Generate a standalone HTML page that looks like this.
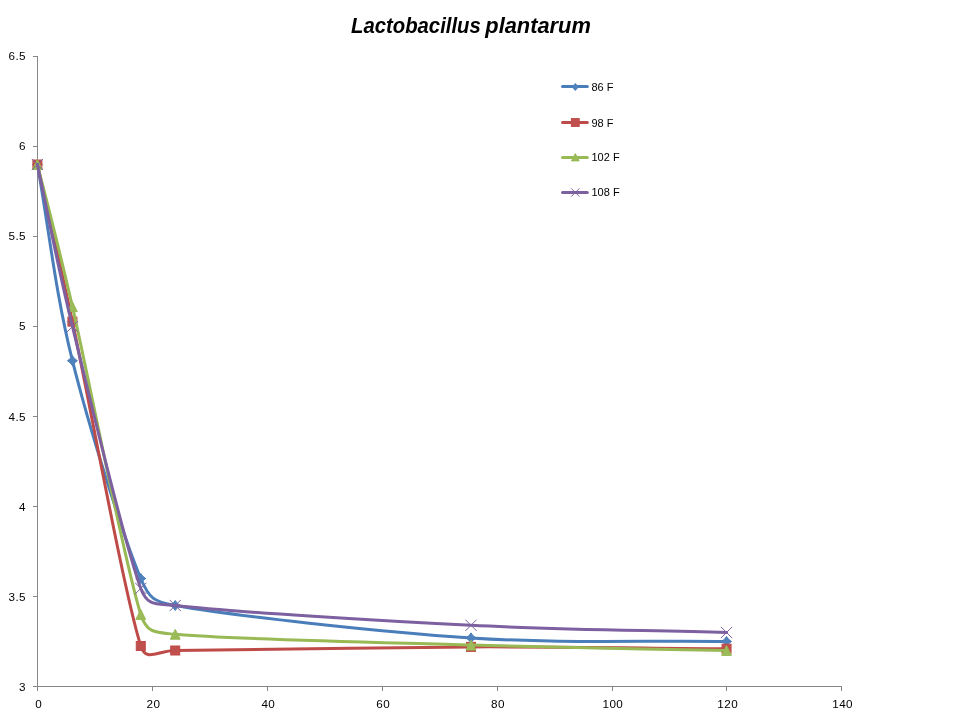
<!DOCTYPE html>
<html><head><meta charset="utf-8"><title>Lactobacillus plantarum</title>
<style>
html,body{margin:0;padding:0;background:#fff;}
body{width:960px;height:720px;overflow:hidden;font-family:"Liberation Sans",sans-serif;}
svg{display:block;}
text{font-family:"Liberation Sans",sans-serif;fill:#000;}
.tx{filter:grayscale(1);}
.ax{font-size:11.7px;letter-spacing:0.4px;}
.lg{font-size:11px;}
</style></head><body>
<svg width="960" height="720" viewBox="0 0 960 720">
<rect width="960" height="720" fill="#ffffff"/>

<g class="tx" font-size="21.5" font-weight="bold" font-style="italic"><text x="351" y="33" textLength="129.8" lengthAdjust="spacingAndGlyphs">Lactobacillus</text><text x="485.3" y="33" textLength="105.6" lengthAdjust="spacingAndGlyphs">plantarum</text></g>
<g stroke="#868686" stroke-width="1" fill="none" shape-rendering="crispEdges">
<path d="M37.5 56V691"/>
<path d="M33 686.5H842"/>
<path d="M33 56.5H37"/>
<path d="M33 146.5H37"/>
<path d="M33 236.5H37"/>
<path d="M33 326.5H37"/>
<path d="M33 416.5H37"/>
<path d="M33 506.5H37"/>
<path d="M33 596.5H37"/>
<path d="M33 686.5H37"/>
<path d="M37.5 686V691"/>
<path d="M152.5 686V691"/>
<path d="M267.5 686V691"/>
<path d="M382.5 686V691"/>
<path d="M497.5 686V691"/>
<path d="M612.5 686V691"/>
<path d="M726.5 686V691"/>
<path d="M841.5 686V691"/>
</g>
<path d="M37.40 164.50 C49.08 229.90 55.20 291.70 72.43 360.70 C89.66 429.70 123.64 537.70 140.77 578.50 C149.25 598.68 153.69 601.62 175.23 605.50 C230.26 615.40 379.10 631.90 470.99 637.90 C562.87 643.90 641.36 640.30 726.54 641.50" fill="none" stroke="#4A7EBB" stroke-width="3" stroke-linecap="round" stroke-linejoin="round"/>
<path d="M37.40 159.50Q39.20 162.70 42.40 164.50Q39.20 166.30 37.40 169.50Q35.60 166.30 32.40 164.50Q35.60 162.70 37.40 159.50Z" fill="#4F81BD" stroke="#4A7EBB" stroke-width="1" stroke-linejoin="miter"/>
<path d="M72.43 355.70Q74.23 358.90 77.43 360.70Q74.23 362.50 72.43 365.70Q70.63 362.50 67.43 360.70Q70.63 358.90 72.43 355.70Z" fill="#4F81BD" stroke="#4A7EBB" stroke-width="1" stroke-linejoin="miter"/>
<path d="M140.77 573.50Q142.57 576.70 145.77 578.50Q142.57 580.30 140.77 583.50Q138.97 580.30 135.77 578.50Q138.97 576.70 140.77 573.50Z" fill="#4F81BD" stroke="#4A7EBB" stroke-width="1" stroke-linejoin="miter"/>
<path d="M175.23 600.50Q177.03 603.70 180.23 605.50Q177.03 607.30 175.23 610.50Q173.43 607.30 170.23 605.50Q173.43 603.70 175.23 600.50Z" fill="#4F81BD" stroke="#4A7EBB" stroke-width="1" stroke-linejoin="miter"/>
<path d="M470.99 632.90Q472.79 636.10 475.99 637.90Q472.79 639.70 470.99 642.90Q469.19 639.70 465.99 637.90Q469.19 636.10 470.99 632.90Z" fill="#4F81BD" stroke="#4A7EBB" stroke-width="1" stroke-linejoin="miter"/>
<path d="M726.54 636.50Q728.34 639.70 731.54 641.50Q728.34 643.30 726.54 646.50Q724.74 643.30 721.54 641.50Q724.74 639.70 726.54 636.50Z" fill="#4F81BD" stroke="#4A7EBB" stroke-width="1" stroke-linejoin="miter"/>
<path d="M37.40 164.50 C43.13 190.19 55.53 242.93 72.43 321.64 C89.66 401.89 123.64 591.19 140.77 646.00 C145.96 662.58 157.85 650.45 175.23 650.50 C230.26 650.65 379.10 647.20 470.99 646.90 C562.87 646.60 641.36 648.10 726.54 648.70" fill="none" stroke="#BE4B48" stroke-width="3" stroke-linecap="round" stroke-linejoin="round"/>
<rect x="32.90" y="160.00" width="9.00" height="9.00" fill="#C0504D" stroke="#BE4B48" stroke-width="1"/>
<rect x="67.93" y="317.14" width="9.00" height="9.00" fill="#C0504D" stroke="#BE4B48" stroke-width="1"/>
<rect x="136.27" y="641.50" width="9.00" height="9.00" fill="#C0504D" stroke="#BE4B48" stroke-width="1"/>
<rect x="170.73" y="646.00" width="9.00" height="9.00" fill="#C0504D" stroke="#BE4B48" stroke-width="1"/>
<rect x="466.49" y="642.40" width="9.00" height="9.00" fill="#C0504D" stroke="#BE4B48" stroke-width="1"/>
<rect x="722.04" y="644.20" width="9.00" height="9.00" fill="#C0504D" stroke="#BE4B48" stroke-width="1"/>
<path d="M37.40 164.50 C42.96 187.05 56.04 235.33 72.43 306.70 C89.66 381.70 123.64 559.90 140.77 614.50 C146.72 633.46 155.44 632.47 175.23 634.30 C230.26 639.40 379.10 642.40 470.99 645.10 C562.87 647.80 641.36 648.70 726.54 650.50" fill="none" stroke="#98B954" stroke-width="3" stroke-linecap="round" stroke-linejoin="round"/>
<path d="M37.40 159.60L42.30 169.40L32.50 169.40Z" fill="#9BBB59" stroke="#98B954" stroke-width="1"/>
<path d="M72.43 301.80L77.33 311.60L67.53 311.60Z" fill="#9BBB59" stroke="#98B954" stroke-width="1"/>
<path d="M140.77 609.60L145.67 619.40L135.87 619.40Z" fill="#9BBB59" stroke="#98B954" stroke-width="1"/>
<path d="M175.23 629.40L180.13 639.20L170.33 639.20Z" fill="#9BBB59" stroke="#98B954" stroke-width="1"/>
<path d="M470.99 640.20L475.89 650.00L466.09 650.00Z" fill="#9BBB59" stroke="#98B954" stroke-width="1"/>
<path d="M726.54 645.60L731.44 655.40L721.64 655.40Z" fill="#9BBB59" stroke="#98B954" stroke-width="1"/>
<path d="M37.40 164.50 C49.08 218.50 55.20 255.85 72.43 326.50 C89.66 397.15 123.64 541.90 140.77 588.40 C147.42 606.45 156.11 603.36 175.23 605.50 C230.26 611.65 379.10 620.80 470.99 625.30 C562.87 629.80 641.36 630.10 726.54 632.50" fill="none" stroke="#7D60A0" stroke-width="3" stroke-linecap="round" stroke-linejoin="round"/>
<path d="M31.80 158.90L43.00 170.10M31.80 170.10L43.00 158.90" fill="none" stroke="#7D60A0" stroke-width="1"/>
<path d="M66.83 320.90L78.03 332.10M66.83 332.10L78.03 320.90" fill="none" stroke="#7D60A0" stroke-width="1"/>
<path d="M135.17 582.80L146.37 594.00M135.17 594.00L146.37 582.80" fill="none" stroke="#7D60A0" stroke-width="1"/>
<path d="M169.63 599.90L180.83 611.10M169.63 611.10L180.83 599.90" fill="none" stroke="#7D60A0" stroke-width="1"/>
<path d="M465.39 619.70L476.59 630.90M465.39 630.90L476.59 619.70" fill="none" stroke="#7D60A0" stroke-width="1"/>
<path d="M720.94 626.90L732.14 638.10M720.94 638.10L732.14 626.90" fill="none" stroke="#7D60A0" stroke-width="1"/>
<g class="tx">
<text class="ax" x="26" y="59.9" text-anchor="end">6.5</text>
<text class="ax" x="26" y="149.9" text-anchor="end">6</text>
<text class="ax" x="26" y="239.9" text-anchor="end">5.5</text>
<text class="ax" x="26" y="330.4" text-anchor="end">5</text>
<text class="ax" x="26" y="420.9" text-anchor="end">4.5</text>
<text class="ax" x="26" y="510.9" text-anchor="end">4</text>
<text class="ax" x="26" y="600.9" text-anchor="end">3.5</text>
<text class="ax" x="26" y="690.8" text-anchor="end">3</text>
<text class="ax" x="38.6" y="707.8" text-anchor="middle">0</text>
<text class="ax" x="153.5" y="707.8" text-anchor="middle">20</text>
<text class="ax" x="268.3" y="707.8" text-anchor="middle">40</text>
<text class="ax" x="383.2" y="707.8" text-anchor="middle">60</text>
<text class="ax" x="498.0" y="707.8" text-anchor="middle">80</text>
<text class="ax" x="612.9" y="707.8" text-anchor="middle">100</text>
<text class="ax" x="727.7" y="707.8" text-anchor="middle">120</text>
<text class="ax" x="842.6" y="707.8" text-anchor="middle">140</text>
</g>
<path d="M562.5 86.5H587.3" stroke="#4A7EBB" stroke-width="3" stroke-linecap="round" fill="none"/>
<path d="M575.30 83.40L578.40 87.00L575.30 90.60L572.20 87.00Z" fill="#4F81BD" stroke="#4A7EBB" stroke-width="0.8"/>
<path d="M562.5 122.5H587.3" stroke="#BE4B48" stroke-width="3" stroke-linecap="round" fill="none"/>
<rect x="571.40" y="118.60" width="7.8" height="7.8" fill="#C0504D" stroke="#BE4B48" stroke-width="1"/>
<path d="M562.5 157.5H587.3" stroke="#98B954" stroke-width="3" stroke-linecap="round" fill="none"/>
<path d="M575.30 153.60L579.10 160.90L571.50 160.90Z" fill="#9BBB59" stroke="#98B954" stroke-width="1"/>
<path d="M562.5 192.5H587.3" stroke="#7D60A0" stroke-width="3" stroke-linecap="round" fill="none"/>
<path d="M571.20 188.40L579.40 196.60M571.20 196.60L579.40 188.40" fill="none" stroke="#7D60A0" stroke-width="1"/>
<g class="tx"><text class="lg" x="591.5" y="90.7">86 F</text><text class="lg" x="591.5" y="126.5">98 F</text><text class="lg" x="591.5" y="161.0">102 F</text><text class="lg" x="591.5" y="196.2">108 F</text></g>
</svg></body></html>
